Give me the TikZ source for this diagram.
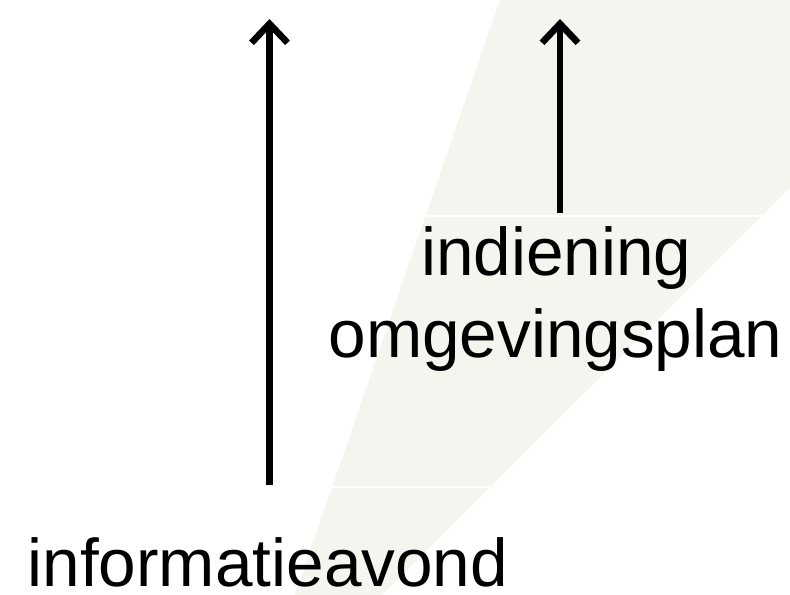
\documentclass[tikz,border=0pt]{standalone}
\usepackage{fontspec}
\setmainfont{Liberation Sans}
\usetikzlibrary{arrows.meta}
\definecolor{wedge}{RGB}{245,245,239}
\tikzset{
  lbl/.style={inner sep=0pt, anchor=base, font=\fontsize{67.5bp}{80bp}\selectfont},
  uparrow/.style={line width=6.6bp, -{Straight Barb[length=19bp,width=36bp,line width=6.6bp]}}
}
\begin{document}
\begin{tikzpicture}[x=1bp,y=-1bp]
\useasboundingbox (0,0) rectangle (790,595);
\fill[white] (0,0) rectangle (790,595);
% wedge band
\fill[wedge] (500,0) -- (790,0) -- (790,188) -- (382,595) -- (295,595) -- cycle;
\begin{scope}
  \clip (500,0) -- (790,0) -- (790,188) -- (382,595) -- (295,595) -- cycle;
  \draw[white, line width=1.5bp] (0,216) -- (790,216);
  \draw[white, line width=1.5bp] (0,487) -- (790,487);
\end{scope}
% labels
\node[lbl, anchor=base west, text depth=0pt] (info) at (27.5,586) {informatieavond};
\node[lbl] (ind) at (556.5,275) {indiening};
\node[lbl] (omg) at (555.5,357) {omgevingsplan};
% arrow endpoints
\coordinate (a1s) at (269.5,485);
\coordinate (a1e) at (269.5,19);
\coordinate (a2s) at (560,213);
\coordinate (a2e) at (560,19);
\draw[uparrow] (a1s) -- (a1e);
\draw[uparrow] (a2s) -- (a2e);
\end{tikzpicture}
\end{document}
